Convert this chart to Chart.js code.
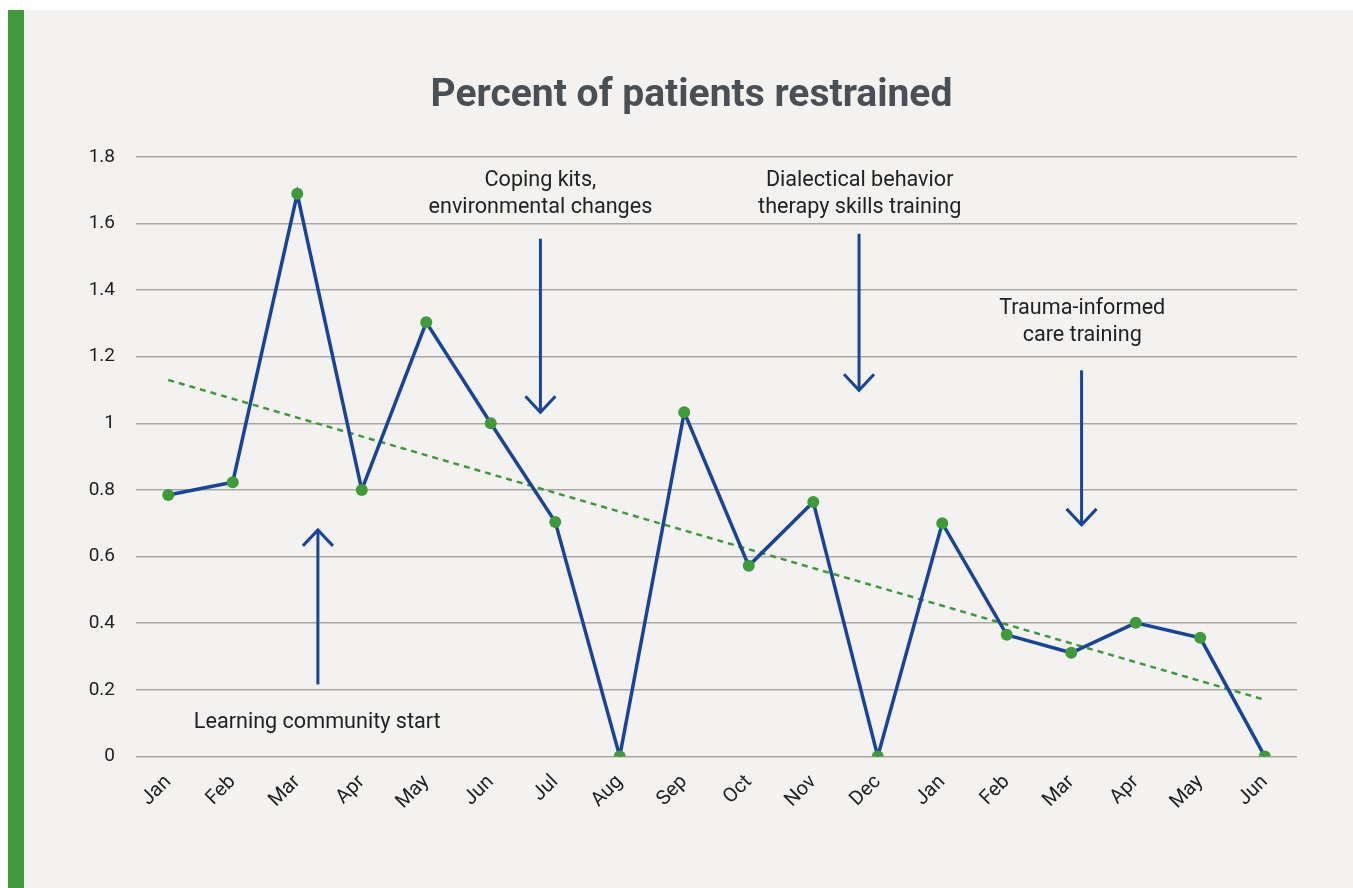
<!DOCTYPE html>
<html>
<head>
<meta charset="utf-8">
<script src="https://cdn.jsdelivr.net/npm/chart.js@4/dist/chart.umd.min.js"></script>
<style>
  html, body { margin: 0; padding: 0; background: #ffffff; width: 1353px; height: 888px; overflow: hidden; }
  #bar { position: absolute; left: 8px; top: 10px; width: 16px; height: 878px; background: #409a3b; }
  #panel { position: absolute; left: 24px; top: 10px; width: 1329px; height: 878px; background: #f3f2f0; }
  #panel canvas { display: block; }
</style>
</head>
<body>
<div id="bar"></div>
<div id="panel"><canvas id="c" width="1329" height="878"></canvas></div>
<script>
// ---- data ----
const categories = ["Jan","Feb","Mar","Apr","May","Jun","Jul","Aug","Sep","Oct","Nov","Dec","Jan","Feb","Mar","Apr","May","Jun"];
const restrainedPct = [0.785, 0.823, 1.689, 0.80, 1.303, 1.0, 0.704, 0, 1.033, 0.572, 0.764, 0, 0.70, 0.365, 0.311, 0.401, 0.356, 0];
const trendStart = 1.13;
const trendEnd = 0.17;
const trendValues = categories.map((_, i) => i === 0 ? trendStart : (i === categories.length - 1 ? trendEnd : null));
const yTicks = [0, 0.2, 0.4, 0.6, 0.8, 1, 1.2, 1.4, 1.6, 1.8];

// annotations (category index position, y value range)
const noteText = [["Learning community start"], ["Coping kits,", "environmental changes"], ["Dialectical behavior", "therapy skills training"], ["Trauma-informed", "care training"]];
const noteTextX = [2.31, 5.77, 10.72, 14.17];
const noteTextY = [0.102, 1.728, 1.728, 1.345];
const arrowX = [2.32, 5.77, 10.71, 14.16];
const arrowFrom = [0.216, 1.554, 1.569, 1.159];
const arrowTo = [0.68, 1.033, 1.099, 0.695];

const FONT = "Roboto, 'Noto Sans', sans-serif";
const BLUE = "#1a4597";
const GREEN = "#409a3b";

const annotations = {
  id: 'annotations',
  afterDatasetsDraw(chart) {
    const ctx = chart.ctx, xs = chart.scales.x, ys = chart.scales.y;
    ctx.save();
    ctx.strokeStyle = BLUE;
    ctx.lineWidth = 3;
    ctx.lineCap = 'butt';
    for (let i = 0; i < arrowX.length; i++) {
      const x = xs.getPixelForValue(arrowX[i]);
      const y0 = ys.getPixelForValue(arrowFrom[i]);
      const y1 = ys.getPixelForValue(arrowTo[i]);
      const dir = y1 > y0 ? 1 : -1;
      ctx.beginPath();
      ctx.moveTo(x, y0);
      ctx.lineTo(x, y1);
      ctx.stroke();
      ctx.beginPath();
      ctx.moveTo(x - 15, y1 - dir * 16);
      ctx.lineTo(x, y1);
      ctx.lineTo(x + 15, y1 - dir * 16);
      ctx.stroke();
    }
    ctx.fillStyle = "#222222";
    ctx.font = "21.6px " + FONT;
    ctx.textAlign = 'center';
    ctx.textBaseline = 'middle';
    const lh = 27;
    for (let i = 0; i < noteText.length; i++) {
      const x = xs.getPixelForValue(noteTextX[i]);
      const y = ys.getPixelForValue(noteTextY[i]);
      noteText[i].forEach((t, k) => ctx.fillText(t, x, y + k * lh));
    }
    ctx.restore();
  }
};

new Chart(document.getElementById('c'), {
  type: 'line',
  data: {
    labels: categories,
    datasets: [
      {
        label: 'Trend',
        data: trendValues,
        spanGaps: true,
        borderColor: GREEN,
        borderWidth: 2.5,
        borderDash: [6, 5],
        pointRadius: 0,
        fill: false,
        order: 2
      },
      {
        label: 'Percent of patients restrained',
        data: restrainedPct,
        borderColor: BLUE,
        borderWidth: 3.5,
        pointRadius: 6,
        pointBackgroundColor: GREEN,
        pointBorderWidth: 0,
        pointBorderColor: GREEN,
        tension: 0,
        fill: false,
        order: 1
      }
    ]
  },
  options: {
    responsive: false,
    animation: false,
    layout: { padding: { left: 62, right: 56, top: 0, bottom: 60 } },
    plugins: {
      legend: { display: false },
      tooltip: { enabled: false },
      title: {
        display: true,
        text: 'Percent of patients restrained',
        color: '#4a4f55',
        font: { family: FONT, size: 39, weight: 'bold' },
        padding: { top: 63, bottom: 37 }
      }
    },
    scales: {
      x: {
        offset: true,
        grid: { display: false, drawTicks: false },
        border: { display: false },
        ticks: {
          color: '#222222',
          font: { family: FONT, size: 20 },
          minRotation: 45,
          maxRotation: 45,
          padding: 14,
          autoSkip: false
        }
      },
      y: {
        min: 0,
        max: 1.8,
        afterFit(axis) { axis.width = 50; },
        afterBuildTicks(axis) { axis.ticks = yTicks.map(v => ({ value: v })); },
        grid: { color: '#aaa7a2', lineWidth: 1.5, drawTicks: false },
        border: { display: false },
        ticks: {
          color: '#222222',
          font: { family: FONT, size: 19 },
          padding: 21,
          callback: v => String(v)
        }
      }
    }
  },
  plugins: [annotations]
});
</script>
</body>
</html>
